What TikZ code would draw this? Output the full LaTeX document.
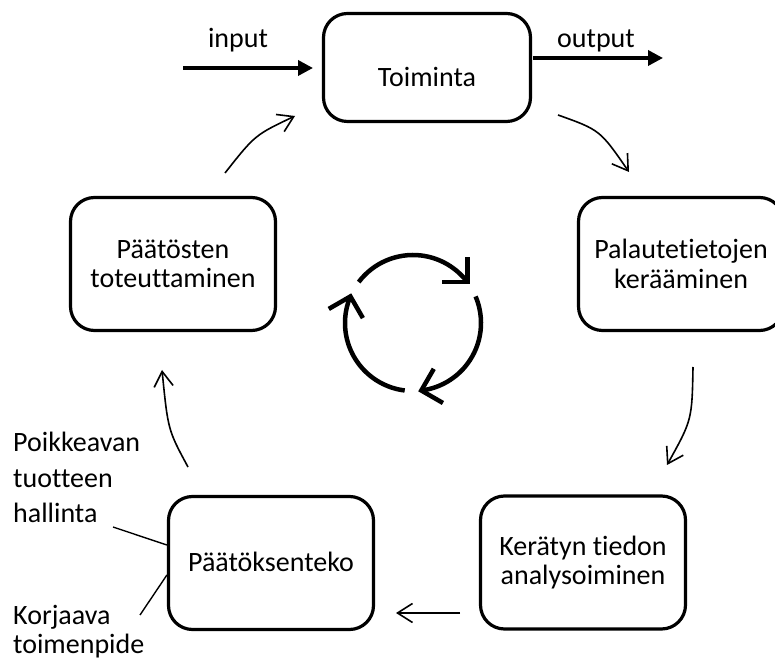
\documentclass[tikz,border=0pt]{standalone}
\usepackage{fontspec}
\setmainfont{Carlito}[Ligatures={NoCommon,NoContextual}]
\usetikzlibrary{arrows.meta,calc}
\begin{document}
\begin{tikzpicture}[x=1pt,y=1pt,
  txt/.style={font=\fontsize{28}{29.5}\selectfont},
  stage/.style={txt, draw, line width=3.2pt, rounded corners=24pt,
    minimum width=205pt, minimum height=133pt, align=center, inner sep=0pt},
  lbl/.style={txt, inner sep=0pt},
  flow/.style={line width=3.5pt, -{Triangle[length=15pt,width=15pt]}},
  link/.style={line width=1.6pt, -{Straight Barb[length=15pt,width=19pt]}},
  lead/.style={line width=1.4pt},
  cyc/.style={line width=4.5pt},
]
\useasboundingbox (0,0) rectangle (775,666);

% process stages
\node[stage, minimum width=207pt, minimum height=108pt, text height=39pt, text depth=0pt]
  (act) at (427,598.5) {Toiminta};
\node[stage] (fb)  at (681,402)   {Palautetietojen\\kerääminen};
\node[stage] (imp) at (173,402)   {Päätösten\\toteuttaminen};
\node[stage] (ana) at (583,103.5) {Kerätyn tiedon\\analysoiminen};
\node[stage, text height=16pt, text depth=0pt] (dec) at (271,103) {Päätöksenteko};

% input / output
\node[lbl, anchor=base] (inl)  at (238,618) {input};
\node[lbl, anchor=base] (outl) at (596,618) {output};
\coordinate (in0)  at (183,598);
\coordinate (in1)  at (313,598);
\coordinate (out0) at (533,608);
\coordinate (out1) at (663,608);
\draw[flow] (in0) -- (in1);
\draw[flow] (out0) -- (out1);

% cycle connectors between stages
\coordinate (a1) at (558,551); \coordinate (a2) at (629,494);
\coordinate (b1) at (693,299); \coordinate (b2) at (667,201);
\coordinate (c1) at (460,53);  \coordinate (c2) at (396,53);
\coordinate (d1) at (188,199); \coordinate (d2) at (162,296);
\coordinate (e1) at (225,493); \coordinate (e2) at (295,550);
\draw[link] (a1) .. controls (600,536) .. (a2);
\draw[link] (b1) .. controls (692,246) .. (b2);
\draw[link] (c1) -- (c2);
\draw[link] (d1) .. controls (168,236) .. (d2);
\draw[link] (e1) .. controls (255,531) .. (e2);

% side notes on decision making (base anchor sits on the last line)
\node[txt, font=\fontsize{28}{35.5}\selectfont, align=left, inner sep=0pt, anchor=base west]
  (dev) at (13,143) {Poikkeavan\\tuotteen\\hallinta};
\node[txt, font=\fontsize{28}{29}\selectfont, align=left, inner sep=0pt, anchor=base west]
  (cor) at (13,13) {Korjaava\\toimenpide};
\coordinate (h1) at (113,139);
\coordinate (k1) at (140,51);
\draw[lead] (h1) -- ($(dec.west)+(0,18)$);
\draw[lead] (k1) -- ($(dec.west)+(0,-12)$);

% central cycle symbol
\coordinate (c) at (413,343);
\draw[cyc] ($(c)+(143:68)$) arc[start angle=143, end angle=37, radius=68];
\draw[cyc] ($(c)+(23:68)$) arc[start angle=23, end angle=-83, radius=68];
\draw[cyc] ($(c)+(-97:68)$) arc[start angle=-97, end angle=-203, radius=68];
\draw[cyc] ($(c)+(37:68)+(90:25)$) -- ($(c)+(37:68)$) -- ++(180:25);
\draw[cyc] ($(c)+(-83:68)+(60:25)$) -- ($(c)+(-83:68)$) -- ++(-30:25);
\draw[cyc] ($(c)+(157:68)+(300:25)$) -- ($(c)+(157:68)$) -- ++(210:25);
\end{tikzpicture}
\end{document}
